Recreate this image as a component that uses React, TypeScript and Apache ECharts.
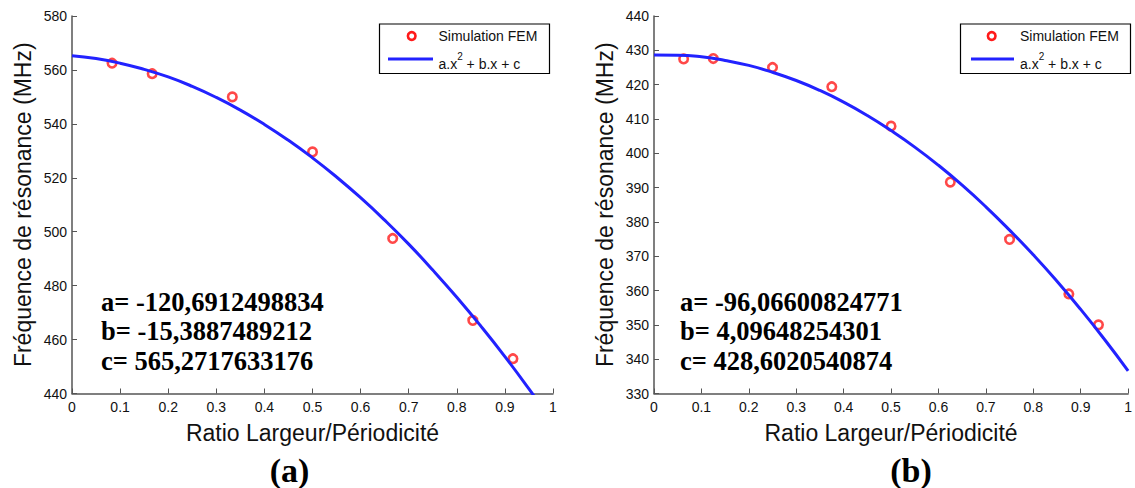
import React, { useEffect, useRef } from "react";
import * as echarts from "echarts";

// Panel (a)
const simXA = [0.0833, 0.1667, 0.3333, 0.5, 0.6667, 0.8333, 0.9167];
const simYA = [562.5, 558.6, 550.0, 529.6, 497.5, 467.1, 452.9];
const fitXA = [0, 0.05, 0.1, 0.15, 0.2, 0.25, 0.3, 0.35, 0.4, 0.45, 0.5, 0.55, 0.6, 0.65, 0.7, 0.75, 0.8, 0.85, 0.9, 0.95, 1.0];
const fitYA = [565.3, 564.2, 562.5, 560.2, 557.4, 553.9, 549.8, 545.1, 539.8, 533.9, 527.4, 520.3, 512.6, 504.3, 495.4, 485.8, 475.7, 465.0, 453.7, 441.7, 429.2];
const coefA = ["a= -120,6912498834", "b= -15,3887489212", "c= 565,2717633176"];

// Panel (b)
const simXB = [0.0625, 0.125, 0.25, 0.375, 0.5, 0.625, 0.75, 0.875, 0.9375];
const simYB = [427.5, 427.6, 425.0, 419.4, 407.9, 391.6, 374.9, 359.0, 350.0];
const fitXB = [0, 0.05, 0.1, 0.15, 0.2, 0.25, 0.3, 0.35, 0.4, 0.45, 0.5, 0.55, 0.6, 0.65, 0.7, 0.75, 0.8, 0.85, 0.9, 0.95, 1.0];
const fitYB = [428.6, 428.57, 428.1, 427.05, 425.6, 423.6, 421.2, 418.3, 414.9, 411.0, 406.6, 401.8, 396.5, 390.7, 384.4, 377.6, 370.4, 362.7, 354.5, 345.8, 336.6];
const coefB = ["a= -96,06600824771", "b= 4,09648254301", "c= 428,6020540874"];

const xName = "Ratio Largeur/Périodicité";
const yName = "Fréquence de résonance (MHz)";
const legendSim = "Simulation FEM";
const panelLabels = ["(a)", "(b)"];

const RED = "#ff1a1a";
const BLUE = "#2222ff";
const AXIS = "#555";
const SANS = "Liberation Sans, Arial, sans-serif";
const SERIF = "Liberation Serif, Times New Roman, serif";

function xAxisCfg(gridIndex: number) {
  return {
    type: "value",
    gridIndex,
    min: 0,
    max: 1,
    interval: 0.1,
    name: xName,
    nameLocation: "middle",
    nameGap: 28,
    nameTextStyle: { fontFamily: SANS, fontSize: 23, color: "#111" },
    axisLine: { show: true, onZero: false, lineStyle: { color: AXIS, width: 1.5 } },
    axisTick: { show: true, inside: true, length: 5, lineStyle: { color: AXIS } },
    axisLabel: { fontFamily: SANS, fontSize: 14, color: "#111", margin: 6 },
    splitLine: { show: false },
  };
}

function yAxisCfg(gridIndex: number, min: number, max: number, interval: number) {
  return {
    type: "value",
    gridIndex,
    min,
    max,
    interval,
    name: yName,
    nameLocation: "middle",
    nameRotate: 90,
    nameGap: 38,
    nameTextStyle: { fontFamily: SANS, fontSize: 23, color: "#111" },
    axisLine: { show: true, onZero: false, lineStyle: { color: AXIS, width: 1.5 } },
    axisTick: { show: true, inside: true, length: 5, lineStyle: { color: AXIS } },
    axisLabel: { fontFamily: SANS, fontSize: 14, color: "#111", margin: 5 },
    splitLine: { show: false },
  };
}

function legendGraphic(x0: number, x1: number, y0: number, y1: number, cx: number, lx0: number, lx1: number, tx: number) {
  return [
    {
      type: "rect",
      shape: { x: x0, y: y0, width: x1 - x0, height: y1 - y0 },
      style: { fill: "#fff", stroke: "#000", lineWidth: 1.2 },
      z: 10,
    },
    {
      type: "circle",
      shape: { cx, cy: 36, r: 3.8 },
      style: { fill: "none", stroke: RED, lineWidth: 2.6 },
      z: 11,
    },
    {
      type: "line",
      shape: { x1: lx0, y1: 59, x2: lx1, y2: 59 },
      style: { stroke: BLUE, lineWidth: 3 },
      z: 11,
    },
    {
      type: "text",
      x: tx,
      y: 36,
      style: { text: legendSim, fontFamily: SANS, fontSize: 14, fill: "#111", verticalAlign: "middle", align: "left" },
      z: 11,
    },
    {
      type: "text",
      x: tx,
      y: 61,
      style: {
        text: "{n|a.x}{s|2}{n| + b.x + c}",
        verticalAlign: "middle",
        align: "left",
        rich: {
          n: { fontFamily: SANS, fontSize: 14, fill: "#111", lineHeight: 20, verticalAlign: "bottom" },
          s: { fontFamily: SANS, fontSize: 10, fill: "#111", lineHeight: 20, verticalAlign: "top" },
        },
      },
      z: 11,
    },
  ];
}

function coefGraphic(x: number, lines: string[]) {
  const ys = [301.5, 331, 360.5];
  return lines.map((t, i) => ({
    type: "text",
    x,
    y: ys[i],
    style: {
      text: t,
      fontFamily: SERIF,
      fontWeight: "bold",
      fontSize: 26.5,
      fill: "#000",
      verticalAlign: "middle",
      align: "left",
    },
    z: 12,
  }));
}

export default function App() {
  const ref = useRef<HTMLDivElement>(null);
  useEffect(() => {
    if (!ref.current) return;
    const chart = echarts.init(ref.current, null, { renderer: "svg" });
    const pair = (xs: number[], ys: number[]) => xs.map((x, i) => [x, ys[i]]);
    chart.setOption({
      animation: false,
      backgroundColor: "#fff",
      grid: [
        { left: 72, top: 16, width: 481, height: 377.5 },
        { left: 654, top: 16, width: 480, height: 377.5 },
      ],
      xAxis: [xAxisCfg(0), xAxisCfg(1)],
      yAxis: [yAxisCfg(0, 440, 580, 20), yAxisCfg(1, 330, 440, 10)],
      series: [
        {
          type: "scatter",
          name: legendSim,
          xAxisIndex: 0,
          yAxisIndex: 0,
          data: pair(simXA, simYA),
          symbol: "circle",
          symbolSize: 8.5,
          itemStyle: { color: "rgba(0,0,0,0)", borderColor: RED, borderWidth: 2.6 },
          z: 3,
        },
        {
          type: "line",
          name: "fitA",
          xAxisIndex: 0,
          yAxisIndex: 0,
          data: pair(fitXA, fitYA),
          smooth: true,
          showSymbol: false,
          clip: true,
          lineStyle: { color: BLUE, width: 3 },
          z: 4,
        },
        {
          type: "scatter",
          name: legendSim + " b",
          xAxisIndex: 1,
          yAxisIndex: 1,
          data: pair(simXB, simYB),
          symbol: "circle",
          symbolSize: 8.5,
          itemStyle: { color: "rgba(0,0,0,0)", borderColor: RED, borderWidth: 2.6 },
          z: 3,
        },
        {
          type: "line",
          name: "fitB",
          xAxisIndex: 1,
          yAxisIndex: 1,
          data: pair(fitXB, fitYB),
          smooth: true,
          showSymbol: false,
          clip: true,
          lineStyle: { color: BLUE, width: 3 },
          z: 4,
        },
      ],
      graphic: [
        ...legendGraphic(379.5, 549.5, 24, 73.5, 411.7, 388, 433, 438.5),
        ...legendGraphic(960.5, 1130.5, 24, 73.5, 991.7, 971, 1014, 1020),
        ...coefGraphic(101, coefA),
        ...coefGraphic(680, coefB),
        {
          type: "text",
          x: 289.5,
          y: 470,
          style: { text: panelLabels[0], fontFamily: SERIF, fontWeight: "bold", fontSize: 34, fill: "#000", align: "center", verticalAlign: "middle" },
        },
        {
          type: "text",
          x: 911,
          y: 470,
          style: { text: panelLabels[1], fontFamily: SERIF, fontWeight: "bold", fontSize: 34, fill: "#000", align: "center", verticalAlign: "middle" },
        },
      ],
    });
    return () => chart.dispose();
  }, []);
  return <div ref={ref} style={{ position: "absolute", left: 0, top: 0, width: 1135, height: 488 }} />;
}
